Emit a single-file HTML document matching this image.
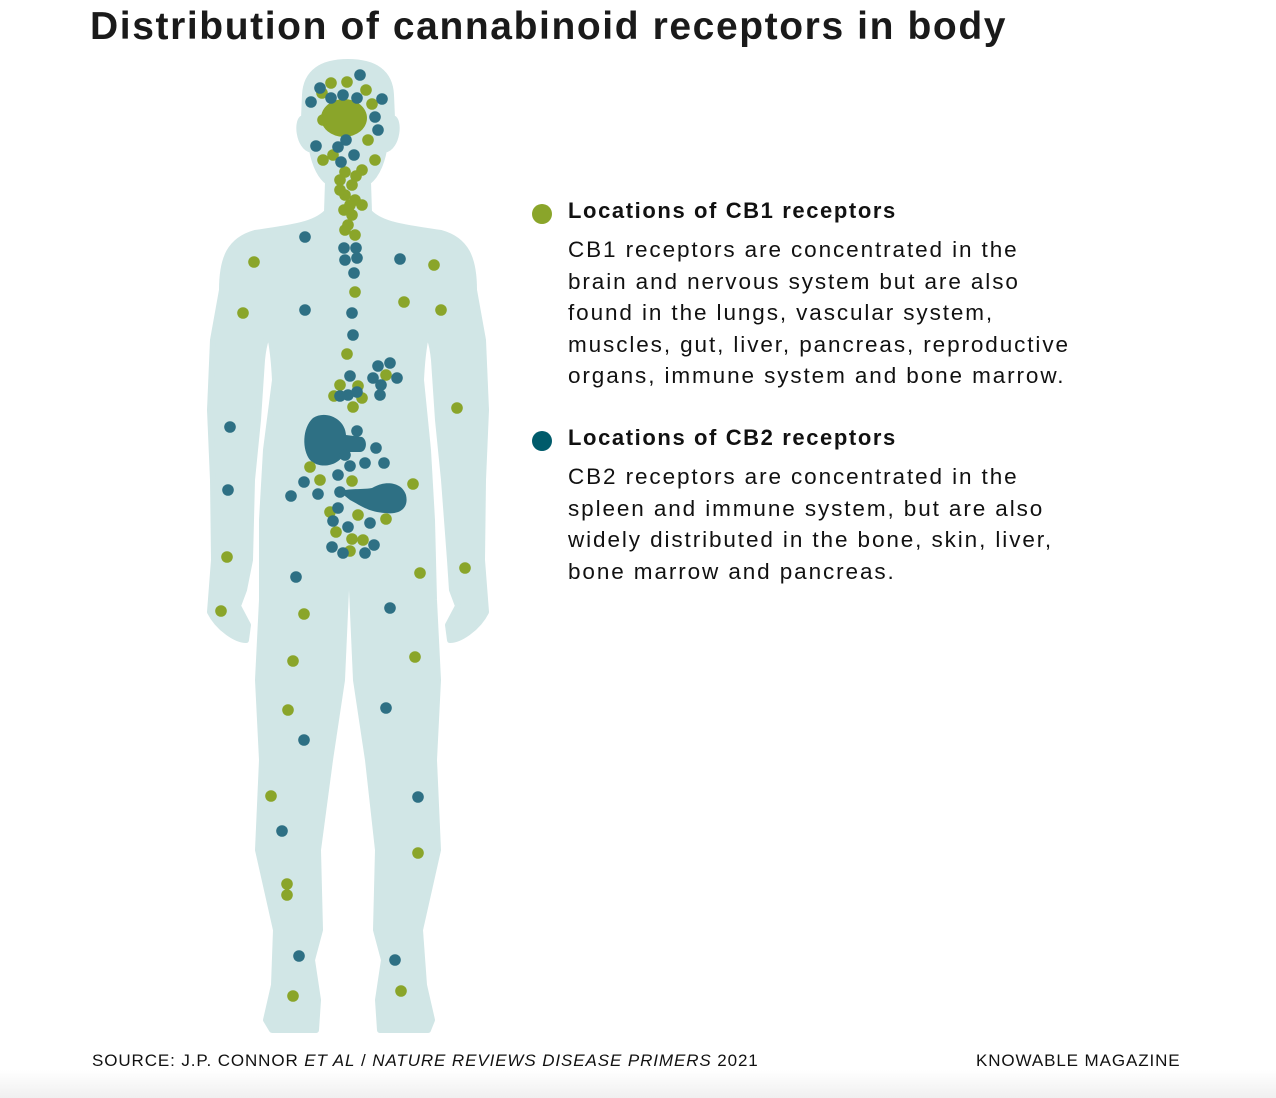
<!DOCTYPE html>
<html><head><meta charset="utf-8"><style>
body{margin:0;width:1276px;height:1098px;background:#fff;position:relative;overflow:hidden;font-family:"Liberation Sans",sans-serif;color:#111}
h1{position:absolute;left:90px;top:5px;margin:0;font-size:39px;font-weight:bold;letter-spacing:1.6px;color:#1a1a1a}
.leg{position:absolute;left:532px}
.leg .t{font-size:22px;font-weight:bold;margin-left:36px;letter-spacing:1.6px}
.leg .d{font-size:22.5px;line-height:31.5px;margin-left:36px;margin-top:10px;letter-spacing:1.9px}
.dot{position:absolute;left:0;top:6px;width:20px;height:20px;border-radius:50%}
.src{position:absolute;top:1051px;font-size:17px;letter-spacing:0.9px}
.foot{position:absolute;left:0;top:1070px;width:1276px;height:28px;background:linear-gradient(#fff,#f0f0f0)}
</style></head><body>
<h1>Distribution of cannabinoid receptors in body</h1>
<svg width="1276" height="1098" style="position:absolute;left:0;top:0">
<g fill="#d1e6e6" stroke="#d1e6e6" stroke-width="6" stroke-linejoin="round">
<path d="M348,62 C322,62 306,72 305,95 L304,118 C296,118 298,148 312,150 C315,165 320,176 328,182 L327,212 C315,225 290,228 255,233 C230,240 222,258 222,290 L213,340 L210,410 L213,480 L214,560 L210,612 C218,628 236,640 246,640 L248,625 L238,606 L244,590 L250,560 L252,480 L258,420 L262,360 C264,340 268,333 270,336 C272,345 274,360 275,380 L266,450 L262,520 L262,600 L258,680 L262,760 L258,850 L276,930 L274,985 L266,1020 L272,1030 L316,1030 L318,1000 L312,960 L320,930 L318,850 L330,760 L342,680 L346,590 C348,580 350,580 352,590 L356,680 L368,760 L378,850 L376,930 L384,960 L378,1000 L380,1030 L428,1030 L432,1020 L424,985 L420,930 L438,850 L434,760 L438,680 L434,600 L432,520 L428,450 L421,380 C422,360 424,345 426,336 C428,333 432,340 434,360 L438,420 L444,480 L450,560 L452,590 L458,606 L448,625 L450,640 C460,640 478,628 486,612 L482,560 L483,480 L486,410 L483,340 L474,290 C474,258 466,240 441,233 C406,228 381,225 369,212 L368,182 C376,176 381,165 384,150 C398,148 400,118 392,118 L391,95 C390,72 374,62 348,62 Z"/>
</g>
<g fill="#2e7084">
<path d="M313,418 C325,410 345,418 346,435 L362,437 C368,440 367,452 360,452 L345,452 C340,466 320,470 310,460 C302,450 302,428 313,418 Z"/>
<path d="M340,492 C345,488 360,490 372,488 C385,480 402,482 406,495 C409,508 400,515 385,513 C368,512 360,505 350,500 Z"/>
</g>
<ellipse cx="344" cy="118" rx="23" ry="19" fill="#8aa52a"/>
<g fill="#8aa52a">
<circle cx="331" cy="83" r="5.8"/><circle cx="347" cy="82" r="5.8"/><circle cx="366" cy="90" r="5.8"/><circle cx="372" cy="104" r="5.8"/><circle cx="322" cy="93" r="5.8"/><circle cx="323" cy="120" r="5.8"/><circle cx="368" cy="140" r="5.8"/><circle cx="375" cy="160" r="5.8"/><circle cx="323" cy="160" r="5.8"/><circle cx="333" cy="155" r="5.8"/><circle cx="345" cy="172" r="5.8"/><circle cx="362" cy="170" r="5.8"/><circle cx="340" cy="180" r="5.8"/><circle cx="352" cy="185" r="5.8"/><circle cx="345" cy="195" r="5.8"/><circle cx="355" cy="200" r="5.8"/><circle cx="362" cy="205" r="5.8"/><circle cx="344" cy="210" r="5.8"/><circle cx="352" cy="215" r="5.8"/><circle cx="348" cy="225" r="5.8"/><circle cx="355" cy="235" r="5.8"/><circle cx="345" cy="230" r="5.8"/><circle cx="340" cy="190" r="5.8"/><circle cx="350" cy="205" r="5.8"/><circle cx="356" cy="176" r="5.8"/>
<circle cx="254" cy="262" r="5.8"/><circle cx="434" cy="265" r="5.8"/><circle cx="243" cy="313" r="5.8"/><circle cx="404" cy="302" r="5.8"/><circle cx="441" cy="310" r="5.8"/><circle cx="355" cy="292" r="5.8"/><circle cx="347" cy="354" r="5.8"/><circle cx="386" cy="375" r="5.8"/><circle cx="340" cy="385" r="5.8"/><circle cx="358" cy="386" r="5.8"/><circle cx="334" cy="396" r="5.8"/><circle cx="362" cy="398" r="5.8"/><circle cx="353" cy="407" r="5.8"/><circle cx="457" cy="408" r="5.8"/><circle cx="310" cy="467" r="5.8"/><circle cx="320" cy="480" r="5.8"/><circle cx="352" cy="481" r="5.8"/><circle cx="413" cy="484" r="5.8"/><circle cx="330" cy="512" r="5.8"/><circle cx="358" cy="515" r="5.8"/><circle cx="386" cy="519" r="5.8"/><circle cx="336" cy="532" r="5.8"/><circle cx="352" cy="539" r="5.8"/><circle cx="363" cy="540" r="5.8"/><circle cx="350" cy="551" r="5.8"/><circle cx="227" cy="557" r="5.8"/><circle cx="465" cy="568" r="5.8"/><circle cx="420" cy="573" r="5.8"/><circle cx="304" cy="614" r="5.8"/><circle cx="221" cy="611" r="5.8"/><circle cx="293" cy="661" r="5.8"/><circle cx="415" cy="657" r="5.8"/><circle cx="288" cy="710" r="5.8"/><circle cx="271" cy="796" r="5.8"/><circle cx="418" cy="853" r="5.8"/><circle cx="287" cy="884" r="5.8"/><circle cx="287" cy="895" r="5.8"/><circle cx="293" cy="996" r="5.8"/><circle cx="401" cy="991" r="5.8"/>
</g>
<g fill="#2e7084">
<circle cx="320" cy="88" r="5.8"/><circle cx="360" cy="75" r="5.8"/><circle cx="343" cy="95" r="5.8"/><circle cx="331" cy="98" r="5.8"/><circle cx="357" cy="98" r="5.8"/><circle cx="382" cy="99" r="5.8"/><circle cx="311" cy="102" r="5.8"/><circle cx="375" cy="117" r="5.8"/><circle cx="378" cy="130" r="5.8"/><circle cx="316" cy="146" r="5.8"/><circle cx="338" cy="147" r="5.8"/><circle cx="354" cy="155" r="5.8"/><circle cx="341" cy="162" r="5.8"/><circle cx="346" cy="140" r="5.8"/>
<circle cx="305" cy="237" r="5.8"/><circle cx="344" cy="248" r="5.8"/><circle cx="356" cy="248" r="5.8"/><circle cx="345" cy="260" r="5.8"/><circle cx="357" cy="258" r="5.8"/><circle cx="400" cy="259" r="5.8"/><circle cx="354" cy="273" r="5.8"/><circle cx="305" cy="310" r="5.8"/><circle cx="352" cy="313" r="5.8"/><circle cx="353" cy="335" r="5.8"/><circle cx="378" cy="366" r="5.8"/><circle cx="390" cy="363" r="5.8"/><circle cx="373" cy="378" r="5.8"/><circle cx="397" cy="378" r="5.8"/><circle cx="350" cy="376" r="5.8"/><circle cx="381" cy="385" r="5.8"/><circle cx="340" cy="396" r="5.8"/><circle cx="348" cy="395" r="5.8"/><circle cx="357" cy="392" r="5.8"/><circle cx="380" cy="395" r="5.8"/><circle cx="357" cy="431" r="5.8"/><circle cx="230" cy="427" r="5.8"/><circle cx="376" cy="448" r="5.8"/><circle cx="345" cy="455" r="5.8"/><circle cx="365" cy="463" r="5.8"/><circle cx="384" cy="463" r="5.8"/><circle cx="338" cy="475" r="5.8"/><circle cx="350" cy="466" r="5.8"/><circle cx="304" cy="482" r="5.8"/><circle cx="291" cy="496" r="5.8"/><circle cx="318" cy="494" r="5.8"/><circle cx="340" cy="492" r="5.8"/><circle cx="338" cy="508" r="5.8"/><circle cx="333" cy="521" r="5.8"/><circle cx="348" cy="527" r="5.8"/><circle cx="370" cy="523" r="5.8"/><circle cx="332" cy="547" r="5.8"/><circle cx="343" cy="553" r="5.8"/><circle cx="365" cy="553" r="5.8"/><circle cx="374" cy="545" r="5.8"/><circle cx="228" cy="490" r="5.8"/><circle cx="296" cy="577" r="5.8"/><circle cx="390" cy="608" r="5.8"/><circle cx="386" cy="708" r="5.8"/><circle cx="304" cy="740" r="5.8"/><circle cx="418" cy="797" r="5.8"/><circle cx="282" cy="831" r="5.8"/><circle cx="299" cy="956" r="5.8"/><circle cx="395" cy="960" r="5.8"/>
</g>
</svg>
<div class="leg" style="top:198px"><div class="dot" style="background:#8aa52a"></div><div class="t">Locations of CB1 receptors</div><div class="d">CB1 receptors are concentrated in the<br>brain and nervous system but are also<br>found in the lungs, vascular system,<br>muscles, gut, liver, pancreas, reproductive<br>organs, immune system and bone marrow.</div></div>
<div class="leg" style="top:425px"><div class="dot" style="background:#005b6b"></div><div class="t">Locations of CB2 receptors</div><div class="d">CB2 receptors are concentrated in the<br>spleen and immune system, but are also<br>widely distributed in the bone, skin, liver,<br>bone marrow and pancreas.</div></div>
<div class="src" style="left:92px">SOURCE: J.P. CONNOR <i>ET AL</i> / <i>NATURE REVIEWS DISEASE PRIMERS</i> 2021</div>
<div class="src" style="left:976px">KNOWABLE MAGAZINE</div>
<div class="foot"></div>
</body></html>
